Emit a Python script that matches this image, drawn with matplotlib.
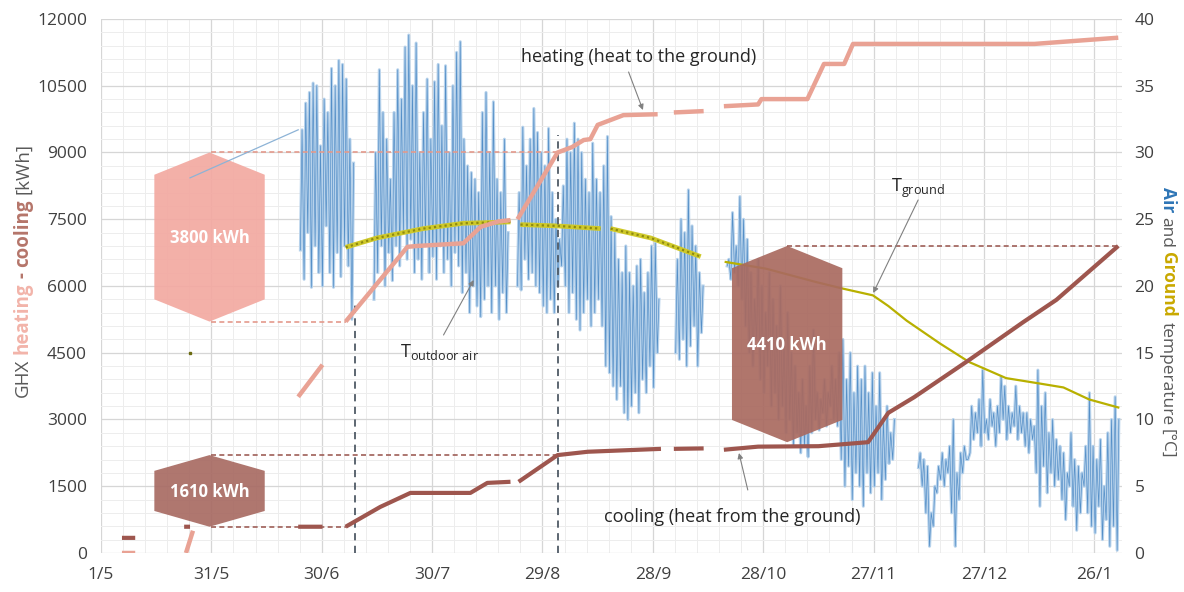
import numpy as np
import matplotlib
matplotlib.use("Agg")
import matplotlib.pyplot as plt
from matplotlib.patches import Polygon
from matplotlib.ticker import MultipleLocator

plt.rcParams['font.family'] = ['Open Sans', 'DejaVu Sans']

# x axis: days counted from 1 May
tick_days = [0, 30, 60, 90, 120, 150, 180, 210, 240, 270]
tick_names = ['1/5', '31/5', '30/6', '30/7', '29/8', '28/9', '28/10', '27/11', '27/12', '26/1']

# cumulative GHX energy [kWh]; None = logger gap
heat_day = [5.7, 9.3, None, 23.1, 25.0, None, 53.6, 60.2, None,
            66.5, 83.3, 86.0, 98.5, 103.2, 108.0, 111.3, None,
            113.2, 124.1, 128.0, 131.2, 133.0, 135.0, 138.5, 142.0, 151.3, None,
            155.7, 163.8, None,
            169.3, 178.6, 179.5, 192.0, 196.5, 202.0, 204.4, 253.7, 276.5]
heat_kwh = [0, 0, None, 0, 500, None, 3510, 4230, None,
            5200, 6880, 6900, 6960, 7330, 7450, 7480, None,
            7500, 9000, 9120, 9280, 9300, 9620, 9730, 9840, 9860, None,
            9900, 9930, None,
            10040, 10080, 10200, 10200, 10990, 10990, 11440, 11440, 11580]

cool_day = [5.7, 9.3, None, 22.6, 24.2, None, 53.6, 60.2, None,
            66.5, 75.9, 84.1, 100.4, 105.0, 111.3, None,
            113.5, 124.1, 132.3, 152.2, None,
            155.7, 163.8, None,
            169.3, 178.6, 195.0, 208.5, 214.0, 221.0, 236.0, 250.7, 259.7, 276.5]
cool_kwh = [340, 340, None, 590, 590, None, 590, 590, None,
            590, 1035, 1350, 1350, 1575, 1600, None,
            1600, 2200, 2275, 2340, None,
            2340, 2350, None,
            2320, 2390, 2400, 2490, 3150, 3500, 4340, 5190, 5690, 6900]

# ground temperature [°C]
ground_day_a = [66.5, 75.0, 87.6, 98.5, 111.3, None, 114.0, 124.0, 135.8, None,
                138.5, 149.4, 163.0]
ground_t_a = [22.9, 23.6, 24.3, 24.7, 24.8, None, 24.6, 24.5, 24.3, None,
              24.3, 23.6, 22.2]
ground_day_b = [169.8, 180.7, 194.3, 201.7, 209.8, 214.0, 219.0, 228.0, 236.0,
                246.0, 255.0, 261.6, 268.6, 276.5]
ground_t_b = [21.8, 21.3, 20.3, 19.8, 19.3, 18.5, 17.4, 15.7, 14.3,
              13.1, 12.7, 12.4, 11.5, 10.9]
ground_spot = (24.2, 15.0)

# outdoor air: daily high / low [°C], day 54 onwards, None = no data
air_first_day = 54
air_hi = [31.7, 33.7, 34.5, 35.2, 35.0, 30.5, 34.0, 33.0, 36.3, 35.0,
          36.9, 36.6, 35.5, 31.0, 29.2, None, None, None, None, None,
          30.0, 36.2, 33.0, 31.0, 28.0, 33.0, 36.2, 34.0, 37.9, 38.8,
          35.0, 38.2, 30.0, 33.0, 35.5, 31.0, 35.3, 36.6, 32.0, 36.5,
          30.0, 35.0, 37.5, 38.3, 31.0, 29.0, 28.5, 28.0, 27.0, 33.0,
          34.5, 30.0, 33.8, 28.0, 27.0, 31.0, 24.0, None, None, 27.0,
          31.9, 29.0, 31.0, 33.3, 31.5, 30.0, 29.0, 31.8, 27.0, 25.0,
          23.5, 27.5, 31.0, 30.0, 32.2, 31.0, 30.0, 28.0, 27.0, 30.7,
          28.0, 27.0, 29.0, 31.2, 25.2, 24.0, 22.0, 21.0, 23.0, 21.0,
          20.0, 21.5, 22.0, 19.5, 21.0, 23.0, 23.2, 19.0, None, None,
          None, None, 22.0, 25.0, 24.0, 27.2, 24.5, 23.0, 21.0, 20.0,
          None, None, None, None, None, None, 22.0, 25.5, 23.0, 26.7,
          25.0, 23.5, 21.0, 19.0, 22.0, 20.0, 18.0, 21.0, 19.0, 17.0,
          20.0, 16.0, 18.0, 15.0, 14.0, 12.0, 13.0, 11.0, 14.0, 16.7,
          12.0, 11.5, 13.0, 12.0, 14.0, 13.0, 15.0, 16.0, 13.0, 15.0,
          12.0, 14.0, 13.0, 14.0, 12.0, 13.5, 11.0, 13.5, 10.0, 11.0,
          9.0, 10.0, None, None, None, None, None, None, 7.5, 7.0,
          6.5, 3.0, 5.0, 6.5, 7.5, 7.0, 8.0, 10.0, 6.0, 7.5,
          8.0, 7.0, 11.0, 10.5, 11.5, 13.7, 10.0, 11.5, 10.5, 11.0,
          13.2, 12.5, 11.0, 10.5, 12.5, 11.0, 10.5, 10.5, 10.0, 9.5,
          13.7, 11.0, 12.0, 9.0, 10.0, 8.5, 8.0, 7.5, 6.0, 9.0,
          7.0, 6.5, 6.0, 8.0, 12.0, 8.0, 7.0, 8.5, 5.0, 9.0,
          10.0, 11.7, 10.0]
air_lo = [22.7, 20.5, 24.0, 19.9, 23.0, 21.0, 20.0, 24.5, 21.0, 19.9,
          22.5, 20.7, 23.0, 21.5, 17.5, None, None, None, None, None,
          19.0, 21.0, 23.0, 20.0, 22.5, 20.4, 23.0, 21.5, 24.0, 22.0,
          23.5, 21.0, 22.0, 20.5, 23.0, 21.0, 22.2, 20.5, 23.0, 21.0,
          22.0, 20.0, 22.5, 21.5, 19.5, 21.0, 18.0, 20.0, 18.5, 17.7,
          19.0, 20.0, 18.0, 20.0, 17.5, 19.5, 18.0, None, None, 20.0,
          19.7, 22.0, 20.5, 21.0, 20.0, 19.5, 18.5, 18.0, 19.0, 18.0,
          20.0, 21.5, 20.0, 18.0, 19.5, 17.5, 16.7, 18.0, 19.0, 17.0,
          18.0, 19.0, 17.0, 14.0, 13.5, 12.5, 11.5, 12.5, 10.5, 10.0,
          11.0, 12.0, 10.5, 13.0, 12.0, 14.0, 12.4, 15.0, None, None,
          None, None, 15.0, 14.5, 16.0, 14.0, 15.5, 17.0, 14.0, 16.5,
          None, None, None, None, None, None, 21.5, 20.5, 21.0, 20.0,
          19.0, 17.0, 15.0, 14.0, 16.0, 13.0, 12.0, 14.0, 11.0, 12.0,
          10.0, 11.0, 9.0, 10.0, 8.0, 9.0, 7.5, 8.0, 7.2, 9.0,
          10.0, 9.2, 10.5, 9.5, 11.0, 10.0, 9.5, 7.0, 5.0, 6.5,
          4.0, 6.0, 5.0, 3.5, 6.0, 4.5, 5.0, 6.0, 4.0, 5.5,
          6.7, 7.0, None, None, None, None, None, None, 6.4, 5.0,
          3.0, 0.5, 2.0, 4.5, 5.5, 5.0, 6.0, 3.0, 0.5, 4.0,
          6.0, 7.0, 7.5, 8.5, 9.0, 8.0, 9.0, 8.5, 9.5, 8.0,
          9.0, 10.0, 8.5, 9.0, 9.5, 8.5, 9.0, 8.0, 7.5, 8.5,
          6.0, 3.5, 6.5, 4.5, 6.0, 5.0, 5.5, 4.0, 2.5, 5.0,
          3.5, 1.7, 3.0, 5.0, 3.0, 2.0, 1.5, 3.5, 1.0, 2.5,
          0.5, 2.0, 0.2]

# energy balance boxes: (centre day, lower kWh, upper kWh)
box_day = [29.5, 29.5, 186.5]
box_low = [5200, 590, 2490]
box_high = [9000, 2200, 6900]
box_color = ['#F3A9A1', '#A86B63', '#A96A60']
# dashed guide lines from the boxes to the curve: (level, from day, to day)
guide_level = [9000, 5200, 2200, 590, 6900]
guide_from = [30, 30, 30, 30, 186.5]
guide_to = [124.1, 66.5, 124.1, 66.5, 276.5]
guide_color = ['#E49A8C', '#E49A8C', '#9E5F57', '#9E5F57', '#9E5F57']
# vertical markers (day, top kWh)
mark_day = [69.1, 124.1]
mark_top = [5600, 9400]

HEAT = '#E9A294'
COOL = '#9E564E'
AIR = '#2E75B6'
GROUND = '#B8B000'
TXT = '#404040'


def to_arr(v):
    return np.array(v, dtype=float)


fig = plt.figure(figsize=(11.84, 5.92), dpi=100)
ax = fig.add_axes([0.0853, 0.0659, 0.8623, 0.902])
ax2 = ax.twinx()
ax.set_zorder(ax2.get_zorder() + 1)
ax.patch.set_visible(False)

ax.set_xlim(0, 277.5)
ax.set_ylim(0, 12000)
ax2.set_ylim(0, 40)

# grid drawn on the back axes
ax.xaxis.set_major_locator(MultipleLocator(30))
ax.xaxis.set_minor_locator(MultipleLocator(6))
ax2.yaxis.set_major_locator(MultipleLocator(5))
ax2.yaxis.set_minor_locator(MultipleLocator(1))
ax.yaxis.set_major_locator(MultipleLocator(1500))
ax2.xaxis.set_visible(True)
ax2.tick_params(axis='x', which='both', bottom=False, top=False,
                labelbottom=False, labeltop=False)
ax2.grid(True, which='major', color='#D6D6D6', lw=0.9)
ax2.grid(True, which='minor', color='#EDEDED', lw=0.7)
ax2.set_axisbelow(True)

ax.set_xticks(tick_days)
ax.set_xticklabels(tick_names)
ax.tick_params(axis='both', which='both', length=0, labelsize=12.5,
               colors=TXT, pad=10)
ax2.tick_params(axis='y', which='both', length=0, labelsize=12.5,
                colors=TXT, pad=9)
for a in (ax, ax2):
    for s in a.spines.values():
        s.set_visible(False)

# outdoor air temperature, one low and one high per day
days = np.arange(air_first_day, air_first_day + len(air_hi))
air_t = np.column_stack([days + 0.2, days + 0.65]).ravel()
air_v = np.column_stack([to_arr(air_lo), to_arr(air_hi)]).ravel()
ax2.plot(air_t, air_v, color='#B7D2EB', lw=2.2, zorder=2)
ax2.plot(air_t, air_v, color='#3D7FBF', lw=0.5, alpha=0.8, zorder=2.1)

# ground temperature
ax2.plot(to_arr(ground_day_a), to_arr(ground_t_a), color='#CFC92A', lw=3.4,
         zorder=3, solid_capstyle='butt')
ax2.plot(to_arr(ground_day_a), to_arr(ground_t_a), color='#8E8A10', lw=1.6,
         ls=(0, (1, 1.4)), zorder=3.1)
ax2.plot(ground_day_b, ground_t_b, color=GROUND, lw=1.6, zorder=3)
ax2.plot(*ground_spot, marker='s', ms=1.5, color='#6B6B10', zorder=3)

# boxes
for d, lo, hi, c in zip(box_day, box_low, box_high, box_color):
    sh = min(500, 0.22 * (hi - lo))
    hw = 15
    pts = [(d, hi), (d + hw, hi - sh), (d + hw, lo + sh), (d, lo),
           (d - hw, lo + sh), (d - hw, hi - sh)]
    ax.add_patch(Polygon(pts, closed=True, facecolor=c, edgecolor='none',
                         alpha=0.92, zorder=2))
    ax.text(d, (lo + hi) / 2 - 20, f'{hi - lo:.0f} kWh', color='white',
            fontsize=12, fontweight='bold', ha='center', va='center', zorder=6)

for lev, x0, x1, c in zip(guide_level, guide_from, guide_to, guide_color):
    ax.plot([x0, x1], [lev, lev], color=c, lw=1.2, ls=(0, (3, 2)), zorder=3)

for d, top in zip(mark_day, mark_top):
    ax.plot([d, d], [0, top], color='#4F5A66', lw=1.3, ls=(0, (4, 3)), zorder=3)

# leader from the heating box
ax.plot([24.2, 53.6], [8430, 9510], color='#8DB3D6', lw=0.9, zorder=5)

# cumulative energy curves
ax.plot(to_arr(heat_day), to_arr(heat_kwh), color=HEAT, lw=3.2, zorder=4,
        solid_capstyle='butt')
ax.plot(to_arr(cool_day), to_arr(cool_kwh), color=COOL, lw=3.0, zorder=4,
        solid_capstyle='butt')

# annotations
arrow = dict(arrowstyle='-|>', color='#808080', lw=0.8, mutation_scale=8,
             shrinkA=0, shrinkB=0)
ax.annotate('', xy=(147.3, 9955), xytext=(143.4, 10809), arrowprops=arrow, zorder=6)
ax.annotate('', xy=(173.4, 2247), xytext=(175.8, 1416), arrowprops=arrow, zorder=6)
ax.annotate('', xy=(101.3, 6135), xytext=(93.1, 4899), arrowprops=arrow, zorder=6)
ax.annotate('', xy=(209.9, 5843), xytext=(222.1, 7933), arrowprops=arrow, zorder=6)

ax.text(146.2, 11146, 'heating (heat to the ground)', fontsize=13, color='#262626',
        ha='center', va='center', zorder=6)
ax.text(171.5, 809, 'cooling (heat from the ground)', fontsize=13, color='#262626',
        ha='center', va='center', zorder=6)
ax.text(81.4, 4517, r'T$_{\mathregular{outdoor\ air}}$', fontsize=13,
        color='#262626', ha='left', va='center', zorder=6)
ax.text(214.8, 8202, r'T$_{\mathregular{ground}}$', fontsize=13,
        color='#262626', ha='left', va='center', zorder=6)


def label_run(x, y, parts, rotation, size):
    r = fig.canvas.get_renderer()
    probe = fig.text(0, 0, 'x x', fontsize=size)
    w2 = probe.get_window_extent(r).width
    probe.set_text('xx')
    w1 = probe.get_window_extent(r).width
    probe.remove()
    space = (w2 - w1) / fig.bbox.height
    sign = 1 if rotation == 90 else -1
    for s, c, wt in parts:
        t = fig.text(x, y, s, color=c, fontweight=wt, fontsize=size,
                     rotation=rotation, rotation_mode='anchor',
                     ha='left', va='baseline')
        h = t.get_window_extent(r).height / fig.bbox.height
        y += sign * (h + space)


label_run(0.0235, 0.329, [('GHX', '#595959', 'normal'),
                          ('heating', '#F2B4AA', 'bold'),
                          ('-', '#B5756A', 'bold'),
                          ('cooling', '#B5756A', 'bold'),
                          ('[kWh]', '#595959', 'normal')], 90, 13.5)
label_run(0.982, 0.684, [('Air', AIR, 'bold'),
                         ('and', '#595959', 'normal'),
                         ('Ground', '#C9A800', 'bold'),
                         ('temperature', '#595959', 'normal'),
                         ('[°C]', '#595959', 'normal')], 270, 12.5)

fig.savefig('out.png', dpi=100, facecolor='white')
